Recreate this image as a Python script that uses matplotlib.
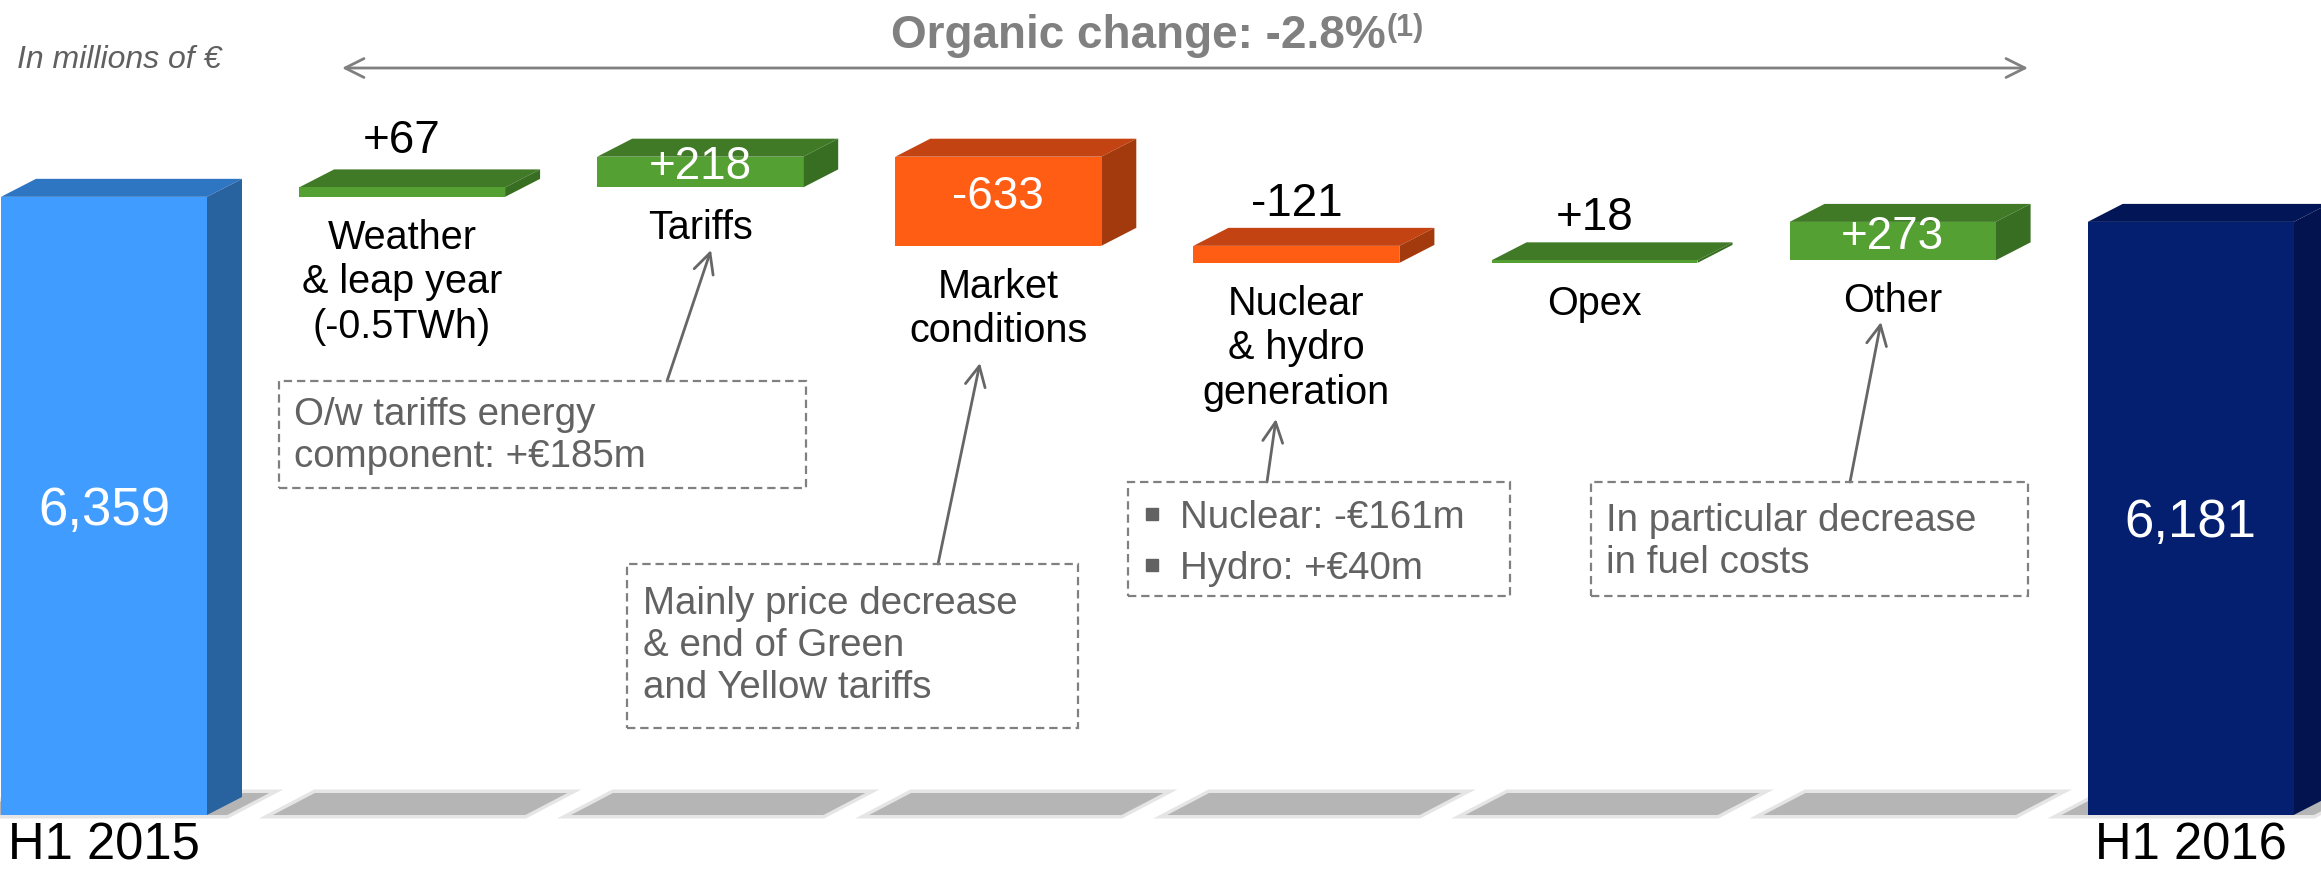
import numpy as np
import matplotlib.pyplot as plt
from matplotlib.patches import Polygon, Rectangle

plt.rcParams['font.family'] = ['Liberation Sans', 'DejaVu Sans']
plt.rcParams['lines.scale_dashes'] = False

# --------------------------------------------------
# data (in millions of €)
# --------------------------------------------------
categories = ['H1 2015', 'Weather\n& leap year\n(-0.5TWh)', 'Tariffs', 'Market\nconditions',
              'Nuclear\n& hydro\ngeneration', 'Opex', 'Other', 'H1 2016']
start_value = 6359
deltas = [67, 218, -633, -121, 18, 273]
end_value = 6181
value_labels = ['6,359', '+67', '+218', '-633', '-121', '+18', '+273', '6,181']

title = 'Organic change: -2.8%'
title_note = '(1)'
unit_label = 'In millions of €'

notes = ['O/w tariffs energy\ncomponent: +€185m',
         'Mainly price decrease\n& end of Green\nand Yellow tariffs',
         'Nuclear: -€161m\nHydro: +€40m',
         'In particular decrease\nin fuel costs']

# --------------------------------------------------
# layout (pixels of the 2321x869 picture, from top-left)
# --------------------------------------------------
W, H = 2321, 869
STEP, X0 = 298.1, 104      # px per category, centre of first bar
UNIT = 7.1                 # € m per px
FLOOR = 1970               # broken axis: bars start here
FLOOR_PX = 54              # px from bottom of the floor
BW = 0.691
DX, DY = 35 / STEP, 18 * UNIT

def P(xp, yp):
    return (xp - X0) / STEP, FLOOR + (H - FLOOR_PX - yp) * UNIT

def em(pt):
    return pt * 100 / 72

fig = plt.figure(figsize=(W / 100, H / 100), dpi=100)
ax = fig.add_axes([0, 0, 1, 1])
ax.set_xlim(P(0, 0)[0], P(W, 0)[0])
ax.set_ylim(P(0, H)[1], P(0, 0)[1])
ax.axis('off')

x = np.arange(len(categories))
levels = np.cumsum([start_value] + deltas)
bottoms = [FLOOR] + [min(levels[i], levels[i + 1]) for i in range(len(deltas))] + [FLOOR]
tops = [start_value] + [max(levels[i], levels[i + 1]) for i in range(len(deltas))] + [end_value]
bottoms, tops = np.array(bottoms, float), np.array(tops, float)

front, top_c, side_c = [], [], []
for i in range(len(x)):
    if i == 0:
        c = ('#409CFF', '#2E75C2', '#2863A0')
    elif i == len(x) - 1:
        c = ('#041E70', '#021556', '#021350')
    elif deltas[i - 1] >= 0:
        c = ('#54A032', '#407A26', '#376E21')
    else:
        c = ('#FF5C14', '#C44312', '#A33A0E')
    front.append(c[0]); top_c.append(c[1]); side_c.append(c[2])

# ground shadow
sh = 22 * UNIT
for xi in x:
    pts = [(xi - 0.433, FLOOR), (xi + 0.413, FLOOR), (xi + 0.554, FLOOR + sh), (xi - 0.292, FLOOR + sh)]
    ax.add_patch(Polygon(pts, closed=True, fc='#b5b5b5', ec='#b5b5b5', lw=5, alpha=0.35, zorder=1))
    ax.add_patch(Polygon(pts, closed=True, fc='#b5b5b5', ec='none', zorder=1))

# bars
ax.bar(x, tops - bottoms, bottom=bottoms, width=BW, color=front, linewidth=0, zorder=3)
for i, xi in enumerate(x):
    l, r, b, t = xi - BW / 2, xi + BW / 2, bottoms[i], tops[i]
    ax.add_patch(Polygon([(l, t), (l + DX, t + DY), (r + DX, t + DY), (r, t)], closed=True,
                         fc=top_c[i], ec='none', zorder=2))
    ax.add_patch(Polygon([(r, b), (r + DX, b + DY), (r + DX, t + DY), (r, t)], closed=True,
                         fc=side_c[i], ec='none', zorder=2))

# value labels
for i, xi in enumerate(x):
    if i in (0, len(x) - 1):
        fs = 38
        yc = (bottoms[i] + tops[i]) / 2
        ax.text(xi, yc - 0.358 * em(fs) * UNIT, value_labels[i], ha='center', va='baseline',
                fontsize=fs, color='white', zorder=5)
    elif abs(deltas[i - 1]) >= 200:
        fs = 33
        yc = (bottoms[i] + tops[i] + DY) / 2
        ax.text(xi, yc - 0.358 * em(fs) * UNIT, value_labels[i], ha='center', va='baseline',
                fontsize=fs, color='white', zorder=5)
    else:
        gap = 16 if i == 1 else 12
        ax.text(xi, tops[i] + DY + gap * UNIT, value_labels[i], ha='center', va='baseline',
                fontsize=33, color='black', zorder=5)

# category labels
for i, xi in enumerate(x):
    if i in (0, len(x) - 1):
        ax.text(xi, P(0, 822)[1], categories[i], ha='center', va='top', fontsize=36.5, color='black')
    else:
        ax.text(xi, bottoms[i] - 22 * UNIT, categories[i], ha='center', va='top', fontsize=28.5,
                color='black', linespacing=1.22)

# header
ax.text(*P(17, 68), unit_label, ha='left', va='baseline', fontsize=23, style='italic', color='#606060')
t = ax.text(*P(1138, 48), title, ha='center', va='baseline', fontsize=33, fontweight='bold', color='#808080')
ax.annotate(title_note, xy=(1, 0), xycoords=t, xytext=(1, 16), textcoords='offset points',
            ha='left', va='baseline', fontsize=22, fontweight='bold', color='#808080')
ax.annotate('', xy=P(342, 68), xytext=P(2028, 68),
            arrowprops=dict(arrowstyle='<->', color='#808080', lw=2, mutation_scale=34,
                            shrinkA=0, shrinkB=0))

# notes
boxes = [(279, 381, 806, 488), (627, 564, 1078, 728), (1128, 482, 1510, 596), (1591, 482, 2028, 596)]
text_pos = [(294, 397), (643, 586), (1180, 500), (1606, 503)]
arrow_start = [667, 938, 1267, 1850]
arrow_tip = [(711, 250), (980, 363), (1276, 419), (1881, 322)]
note_col = '#626262'
for k in range(len(notes)):
    x0, y0, x1, y1 = boxes[k]
    (ax0, ay1), (ax1, ay0) = P(x0, y0), P(x1, y1)
    ax.add_patch(Rectangle((ax0, ay0), ax1 - ax0, ay1 - ay0, fill=False, ec='#808080', lw=1.6,
                           linestyle=(0, (6, 3.5)), zorder=4))
    ls = 1.55 if k == 2 else 1.22
    ax.text(*P(*text_pos[k]), notes[k], ha='left', va='top', fontsize=27.7, color=note_col,
            linespacing=ls, zorder=5)
    ax.annotate('', xy=P(*arrow_tip[k]), xytext=P(arrow_start[k], y0),
                arrowprops=dict(arrowstyle='->', color='#666666', lw=2, mutation_scale=36,
                                shrinkA=0, shrinkB=0))

# bullets of the nuclear / hydro note
bx, by = P(1152, 0)[0], [P(0, 514)[1], P(0, 565)[1]]
ax.plot([bx, bx], by, ls='none', marker='s', markersize=8.5, color=note_col)

fig.savefig('out.png', dpi=100)
